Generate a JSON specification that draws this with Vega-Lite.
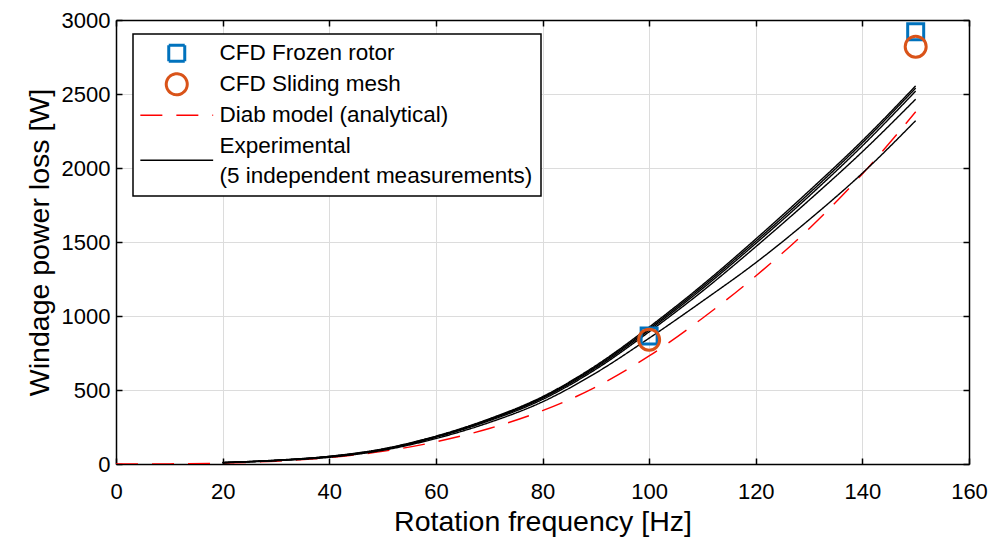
{
  "$schema": "https://vega.github.io/schema/vega-lite/v6.json",
  "width": 853,
  "height": 444,
  "autosize": {"type": "none"},
  "padding": {"left": 116, "top": 20, "right": 36, "bottom": 82},
  "background": "white",
  "config": {"font": "Liberation Sans", "view": {"stroke": null}},
  "datasets": {
    "curves": [
      {"series": "Diab model (analytical)", "run": 0, "f": 0, "p": 0},
      {"series": "Diab model (analytical)", "run": 0, "f": 10, "p": 1},
      {"series": "Diab model (analytical)", "run": 0, "f": 20, "p": 6},
      {"series": "Diab model (analytical)", "run": 0, "f": 30, "p": 19},
      {"series": "Diab model (analytical)", "run": 0, "f": 40, "p": 43},
      {"series": "Diab model (analytical)", "run": 0, "f": 50, "p": 85},
      {"series": "Diab model (analytical)", "run": 0, "f": 60, "p": 150},
      {"series": "Diab model (analytical)", "run": 0, "f": 70, "p": 240},
      {"series": "Diab model (analytical)", "run": 0, "f": 80, "p": 360},
      {"series": "Diab model (analytical)", "run": 0, "f": 90, "p": 520},
      {"series": "Diab model (analytical)", "run": 0, "f": 100, "p": 730},
      {"series": "Diab model (analytical)", "run": 0, "f": 110, "p": 985},
      {"series": "Diab model (analytical)", "run": 0, "f": 120, "p": 1270},
      {"series": "Diab model (analytical)", "run": 0, "f": 130, "p": 1590},
      {"series": "Diab model (analytical)", "run": 0, "f": 140, "p": 1960},
      {"series": "Diab model (analytical)", "run": 0, "f": 150, "p": 2380},
      {"series": "Experimental", "run": 1, "f": 20, "p": 10},
      {"series": "Experimental", "run": 1, "f": 30, "p": 26},
      {"series": "Experimental", "run": 1, "f": 40, "p": 52},
      {"series": "Experimental", "run": 1, "f": 50, "p": 102},
      {"series": "Experimental", "run": 1, "f": 60, "p": 188},
      {"series": "Experimental", "run": 1, "f": 70, "p": 305},
      {"series": "Experimental", "run": 1, "f": 80, "p": 455},
      {"series": "Experimental", "run": 1, "f": 90, "p": 665},
      {"series": "Experimental", "run": 1, "f": 100, "p": 925},
      {"series": "Experimental", "run": 1, "f": 110, "p": 1210},
      {"series": "Experimental", "run": 1, "f": 120, "p": 1520},
      {"series": "Experimental", "run": 1, "f": 130, "p": 1845},
      {"series": "Experimental", "run": 1, "f": 140, "p": 2185},
      {"series": "Experimental", "run": 1, "f": 150, "p": 2555},
      {"series": "Experimental", "run": 2, "f": 20, "p": 10},
      {"series": "Experimental", "run": 2, "f": 30, "p": 25},
      {"series": "Experimental", "run": 2, "f": 40, "p": 51},
      {"series": "Experimental", "run": 2, "f": 50, "p": 100},
      {"series": "Experimental", "run": 2, "f": 60, "p": 186},
      {"series": "Experimental", "run": 2, "f": 70, "p": 302},
      {"series": "Experimental", "run": 2, "f": 80, "p": 450},
      {"series": "Experimental", "run": 2, "f": 90, "p": 658},
      {"series": "Experimental", "run": 2, "f": 100, "p": 915},
      {"series": "Experimental", "run": 2, "f": 110, "p": 1198},
      {"series": "Experimental", "run": 2, "f": 120, "p": 1505},
      {"series": "Experimental", "run": 2, "f": 130, "p": 1828},
      {"series": "Experimental", "run": 2, "f": 140, "p": 2170},
      {"series": "Experimental", "run": 2, "f": 150, "p": 2540},
      {"series": "Experimental", "run": 3, "f": 20, "p": 9},
      {"series": "Experimental", "run": 3, "f": 30, "p": 24},
      {"series": "Experimental", "run": 3, "f": 40, "p": 50},
      {"series": "Experimental", "run": 3, "f": 50, "p": 98},
      {"series": "Experimental", "run": 3, "f": 60, "p": 184},
      {"series": "Experimental", "run": 3, "f": 70, "p": 298},
      {"series": "Experimental", "run": 3, "f": 80, "p": 445},
      {"series": "Experimental", "run": 3, "f": 90, "p": 650},
      {"series": "Experimental", "run": 3, "f": 100, "p": 905},
      {"series": "Experimental", "run": 3, "f": 110, "p": 1185},
      {"series": "Experimental", "run": 3, "f": 120, "p": 1490},
      {"series": "Experimental", "run": 3, "f": 130, "p": 1810},
      {"series": "Experimental", "run": 3, "f": 140, "p": 2150},
      {"series": "Experimental", "run": 3, "f": 150, "p": 2520},
      {"series": "Experimental", "run": 4, "f": 20, "p": 9},
      {"series": "Experimental", "run": 4, "f": 30, "p": 24},
      {"series": "Experimental", "run": 4, "f": 40, "p": 49},
      {"series": "Experimental", "run": 4, "f": 50, "p": 96},
      {"series": "Experimental", "run": 4, "f": 60, "p": 180},
      {"series": "Experimental", "run": 4, "f": 70, "p": 292},
      {"series": "Experimental", "run": 4, "f": 80, "p": 436},
      {"series": "Experimental", "run": 4, "f": 90, "p": 640},
      {"series": "Experimental", "run": 4, "f": 100, "p": 893},
      {"series": "Experimental", "run": 4, "f": 110, "p": 1168},
      {"series": "Experimental", "run": 4, "f": 120, "p": 1468},
      {"series": "Experimental", "run": 4, "f": 130, "p": 1782},
      {"series": "Experimental", "run": 4, "f": 140, "p": 2110},
      {"series": "Experimental", "run": 4, "f": 150, "p": 2465},
      {"series": "Experimental", "run": 5, "f": 20, "p": 8},
      {"series": "Experimental", "run": 5, "f": 30, "p": 22},
      {"series": "Experimental", "run": 5, "f": 40, "p": 45},
      {"series": "Experimental", "run": 5, "f": 50, "p": 92},
      {"series": "Experimental", "run": 5, "f": 60, "p": 172},
      {"series": "Experimental", "run": 5, "f": 70, "p": 280},
      {"series": "Experimental", "run": 5, "f": 80, "p": 420},
      {"series": "Experimental", "run": 5, "f": 90, "p": 615},
      {"series": "Experimental", "run": 5, "f": 100, "p": 850},
      {"series": "Experimental", "run": 5, "f": 110, "p": 1100},
      {"series": "Experimental", "run": 5, "f": 120, "p": 1360},
      {"series": "Experimental", "run": 5, "f": 130, "p": 1650},
      {"series": "Experimental", "run": 5, "f": 140, "p": 1965},
      {"series": "Experimental", "run": 5, "f": 150, "p": 2320}
    ],
    "frozen": [
      {"series": "CFD Frozen rotor", "f": 100, "p": 865},
      {"series": "CFD Frozen rotor", "f": 150, "p": 2920}
    ],
    "sliding": [
      {"series": "CFD Sliding mesh", "f": 100, "p": 840},
      {"series": "CFD Sliding mesh", "f": 150, "p": 2820}
    ]
  },
  "layer": [
    {
      "data": {"name": "curves"},
      "mark": {"type": "line", "interpolate": "monotone", "strokeWidth": 1.4, "clip": true},
      "encoding": {
        "x": {
          "field": "f", "type": "quantitative",
          "scale": {"domain": [0, 160], "nice": false, "zero": false},
          "axis": {
            "orient": "bottom", "values": [0, 20, 40, 60, 80, 100, 120, 140, 160], "format": "d",
            "title": "Rotation frequency [Hz]", "grid": true, "gridColor": "#dcdcdc", "gridWidth": 1,
            "domainColor": "black", "domainWidth": 1.5, "tickColor": "black", "tickSize": -6, "tickWidth": 1.5,
            "labelFont": "Liberation Sans", "labelFontSize": 22, "labelColor": "black", "labelPadding": 23,
            "labelFlush": false, "labelOverlap": false,
            "titleFont": "Liberation Sans", "titleFontSize": 28.5, "titleFontWeight": "normal", "titleColor": "black", "titlePadding": 5
          }
        },
        "y": {
          "field": "p", "type": "quantitative",
          "scale": {"domain": [0, 3000], "nice": false, "zero": false},
          "axis": {
            "orient": "left", "values": [0, 500, 1000, 1500, 2000, 2500, 3000], "format": "d",
            "title": "Windage power loss [W]", "grid": true, "gridColor": "#dcdcdc", "gridWidth": 1,
            "domainColor": "black", "domainWidth": 1.5, "tickColor": "black", "tickSize": -6, "tickWidth": 1.5,
            "labelFont": "Liberation Sans", "labelFontSize": 22, "labelColor": "black", "labelPadding": 12,
            "labelFlush": false, "labelOverlap": false,
            "titleFont": "Liberation Sans", "titleFontSize": 28.5, "titleFontWeight": "normal", "titleColor": "black", "titlePadding": 7
          }
        },
        "color": {
          "field": "series", "type": "nominal",
          "scale": {
            "domain": ["CFD Frozen rotor", "CFD Sliding mesh", "Diab model (analytical)", "Experimental"],
            "range": ["#0072BD", "#D95319", "#FF0000", "#000000"]
          },
          "legend": {
            "title": null, "orient": "none", "legendX": 17, "legendY": 14,
            "strokeColor": "black", "fillColor": "white", "padding": 8,
            "labelFont": "Liberation Sans", "labelFontSize": 22.5, "labelColor": "black", "labelLimit": 600,
            "rowPadding": 7, "symbolOffset": 24.5, "labelOffset": 31.5,
            "labelExpr": "datum.label === 'Experimental' ? ['Experimental', '(5 independent measurements)'] : datum.label",
            "encode": {
              "symbols": {
                "update": {
                  "size": {"signal": "(datum.value === 'CFD Sliding mesh' ? 441 : (datum.value === 'CFD Frozen rotor' ? 256 : 196))"},
                  "strokeWidth": {"signal": "((datum.value === 'CFD Frozen rotor' || datum.value === 'CFD Sliding mesh') ? 3 : 1.5)"},
                  "strokeDash": {"signal": "datum.value === 'Diab model (analytical)' ? [16, 12] : [1, 0]"},
                  "strokeJoin": {"value": "round"},
                  "fill": {"value": "transparent"},
                  "opacity": {"value": 1}
                }
              },
              "labels": {
                "update": {
                  "lineHeight": {"signal": "datum.value === 'Experimental' ? 30.7 : 22.5"},
                  "dy": {"signal": "datum.value === 'Experimental' ? -14.5 : 0"}
                }
              },
              "legend": {"update": {"strokeWidth": {"value": 1.5}}}
            }
          }
        },
        "strokeDash": {
          "field": "series", "type": "nominal",
          "scale": {
            "domain": ["CFD Frozen rotor", "CFD Sliding mesh", "Diab model (analytical)", "Experimental"],
            "range": [[1, 0], [1, 0], [22, 14], [1, 0]]
          }
        },
        "detail": {"field": "run", "type": "nominal"}
      }
    },
    {
      "data": {"name": "frozen"},
      "mark": {"type": "point", "filled": false, "opacity": 1, "strokeWidth": 3, "size": 256},
      "encoding": {
        "x": {"field": "f", "type": "quantitative", "axis": null},
        "y": {"field": "p", "type": "quantitative", "axis": null},
        "color": {"field": "series", "type": "nominal"},
        "shape": {
          "field": "series", "type": "nominal",
          "scale": {
            "domain": ["CFD Frozen rotor", "CFD Sliding mesh", "Diab model (analytical)", "Experimental"],
            "range": ["square", "circle", "M-5.2,0H5.2", "M-5.2,0H5.2"]
          }
        }
      }
    },
    {
      "data": {"name": "sliding"},
      "mark": {"type": "point", "filled": false, "opacity": 1, "strokeWidth": 3, "size": 441},
      "encoding": {
        "x": {
          "field": "f", "type": "quantitative",
          "axis": {
            "orient": "top", "values": [0, 20, 40, 60, 80, 100, 120, 140, 160], "labels": false, "title": null, "grid": false,
            "domainColor": "black", "domainWidth": 1.5, "tickColor": "black", "tickSize": -6, "tickWidth": 1.5
          }
        },
        "y": {
          "field": "p", "type": "quantitative",
          "axis": {
            "orient": "right", "values": [0, 500, 1000, 1500, 2000, 2500, 3000], "labels": false, "title": null, "grid": false,
            "domainColor": "black", "domainWidth": 1.5, "tickColor": "black", "tickSize": -6, "tickWidth": 1.5
          }
        },
        "color": {"field": "series", "type": "nominal"},
        "shape": {"field": "series", "type": "nominal"}
      }
    }
  ]
}
